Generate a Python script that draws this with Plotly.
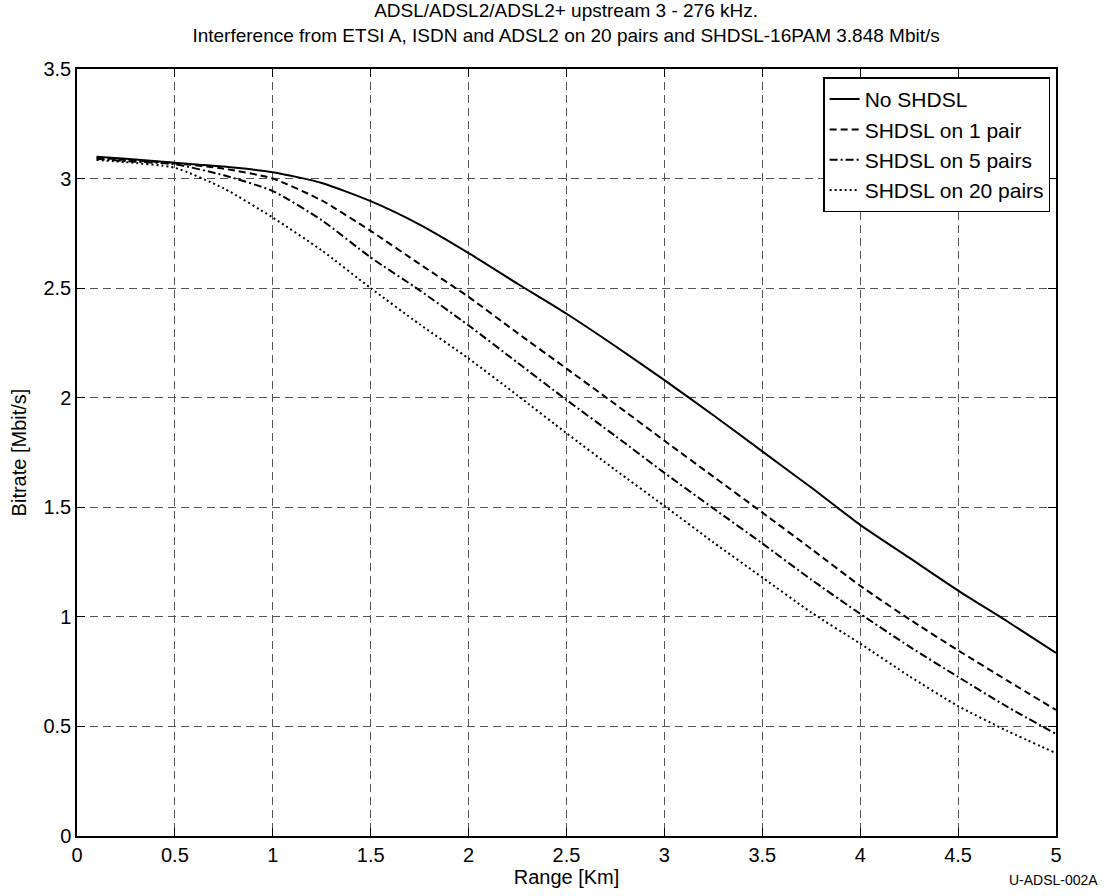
"""
ADSL upstream bitrate vs range with SHDSL interference
"""

import plotly.graph_objects as go

# Range [Km]
range_km = [0.1, 0.25, 0.5, 0.75, 1.0, 1.25, 1.5, 1.75, 2.0, 2.25, 2.5, 2.75,
            3.0, 3.25, 3.5, 3.75, 4.0, 4.25, 4.5, 4.75, 5.0]

# Bitrate [Mbit/s]
no_shdsl = [3.10, 3.09, 3.072, 3.055, 3.029, 2.98, 2.897, 2.79, 2.66, 2.52, 2.383, 2.235,
            2.080, 1.92, 1.755, 1.59, 1.42, 1.27, 1.120, 0.98, 0.835]
shdsl_1 = [3.095, 3.085, 3.07, 3.045, 3.0, 2.90, 2.761, 2.61, 2.46, 2.295, 2.133, 1.97,
           1.804, 1.64, 1.476, 1.31, 1.142, 0.99, 0.847, 0.71, 0.575]
shdsl_5 = [3.09, 3.08, 3.065, 3.015, 2.943, 2.81, 2.64, 2.49, 2.33, 2.16, 1.99, 1.825,
           1.657, 1.495, 1.335, 1.17, 1.014, 0.865, 0.726, 0.59, 0.466]
shdsl_20 = [3.085, 3.075, 3.049, 2.955, 2.822, 2.672, 2.50, 2.335, 2.179, 2.01, 1.838, 1.67,
            1.506, 1.34, 1.180, 1.02, 0.878, 0.73, 0.593, 0.48, 0.378]

series = [
    ("No SHDSL", no_shdsl, "solid"),
    ("SHDSL on 1 pair", shdsl_1, "7px,4px"),
    ("SHDSL on 5 pairs", shdsl_5, "8px,3px,2px,3px"),
    ("SHDSL on 20 pairs", shdsl_20, "2px,3px"),
]

FONT = "Liberation Sans, Arial, sans-serif"

fig = go.Figure()

for name, values, dash in series:
    fig.add_trace(go.Scatter(
        x=range_km, y=values,
        mode='lines', name=name,
        line=dict(color='black', width=2, dash=dash, shape='spline', smoothing=0.6),
    ))

axis_common = dict(
    showline=True, linecolor='black', linewidth=1.5, mirror='ticks',
    ticks='inside', ticklen=8, tickcolor='black',
    showgrid=True, gridcolor='#555555', gridwidth=1, griddash='8px,5px',
    zeroline=False, dtick=0.5,
    tickfont=dict(size=20, color='black'),
)

fig.update_xaxes(range=[0, 5], title=dict(text="Range [Km]", font=dict(size=20), standoff=4),
                 **axis_common)
fig.update_yaxes(range=[0, 3.5], title=dict(text="Bitrate [Mbit/s]", font=dict(size=20), standoff=11),
                 **axis_common)

fig.add_annotation(
    text="U-ADSL-002A", xref='paper', yref='paper', x=1.045, y=-0.058,
    xanchor='right', yanchor='middle', showarrow=False,
    font=dict(size=14, color='black'),
)

fig.update_layout(
    width=1110, height=896,
    margin=dict(l=77, r=54, t=69, b=56),
    paper_bgcolor='white', plot_bgcolor='white',
    font=dict(family=FONT, color='black'),
    title=dict(
        text="ADSL/ADSL2/ADSL2+ upstream 3 - 276 kHz.<br>"
             "Interference from ETSI A, ISDN and ADSL2 on 20 pairs and SHDSL-16PAM 3.848 Mbit/s",
        x=0.51, xanchor='center', yref='container', y=0.981, yanchor='middle',
        font=dict(size=19),
    ),
    legend=dict(
        x=0.994, y=0.989, xanchor='right', yanchor='top',
        bgcolor='white', bordercolor='black', borderwidth=1.5,
        font=dict(size=21), tracegroupgap=0,
    ),
    showlegend=True,
)

fig.write_html("out.html", config={'displayModeBar': False},
               post_script="document.body.style.margin='0';")
